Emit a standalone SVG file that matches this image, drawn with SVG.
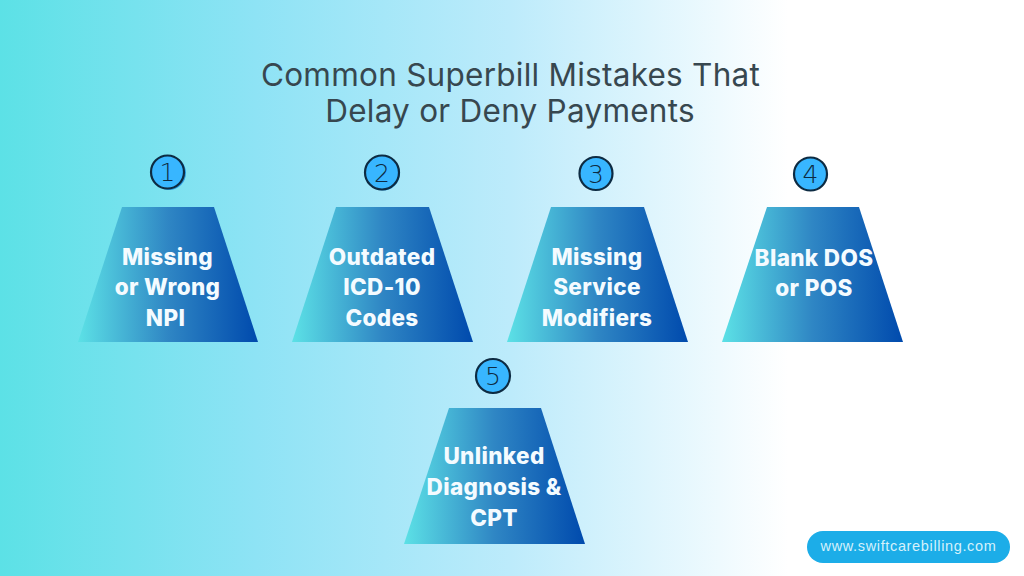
<svg xmlns="http://www.w3.org/2000/svg" width="1024" height="576" viewBox="0 0 1024 576">
<defs>
<linearGradient id="bg" x1="0" y1="0" x2="1" y2="0">
<stop offset="0" stop-color="#5ce1e6"/><stop offset="0.25" stop-color="#8ee3f5"/><stop offset="0.5" stop-color="#bdebfb"/><stop offset="0.77" stop-color="#ffffff"/><stop offset="1" stop-color="#ffffff"/>
</linearGradient>
<linearGradient id="tr" x1="0" y1="0" x2="1" y2="0">
<stop offset="0" stop-color="#5ce1e6"/><stop offset="0.5" stop-color="#2f86c4"/><stop offset="1" stop-color="#004aad"/>
</linearGradient>
<style>
.t{font-family:"Inter","Open Sans","Liberation Sans",sans-serif;font-size:31.5px;fill:#37474f;text-anchor:middle;letter-spacing:.25px}
.l{font-family:"Inter","Open Sans","Liberation Sans",sans-serif;font-weight:800;font-size:22.5px;fill:#f4fbff;text-anchor:middle;letter-spacing:.35px}
.c{fill:#38b6ff;stroke:#0d2b42;stroke-width:2.2}
.s{fill:#2a9be0}
.n{font-family:"DejaVu Sans",sans-serif;font-weight:200;font-size:25px;fill:#0d2b42;text-anchor:middle}
.p{fill:url(#tr)}
</style>
</defs>
<rect id="background" width="1024" height="576" fill="url(#bg)"/>
<g id="title">
<text class="t" x="510.500" y="86">Common Superbill Mistakes That</text>
<text class="t" x="510" y="122">Delay or Deny Payments</text>
</g>
<g id="connectors"></g>
<g id="node1">
<circle class="s" cx="169" cy="173" r="17"/><circle class="c" cx="167.500" cy="172" r="16.500"/><text class="n" x="167.500" y="181">1</text>
<polygon class="p" points="122,207 214,207 258,342 78,342"/>
<text class="l" x="167.500" y="265">Missing</text><text class="l" x="167.500" y="295">or Wrong</text><text class="l" x="165.500" y="326">NPI</text>
</g>
<g id="node2">
<circle class="s" cx="383" cy="173.500" r="17"/><circle class="c" cx="382" cy="172.500" r="17"/><text class="n" x="382" y="181.500">2</text>
<polygon class="p" points="336,207 429,207 473,342 292,342"/>
<text class="l" x="382" y="265">Outdated</text><text class="l" x="382" y="295">ICD-10</text><text class="l" x="382" y="326">Codes</text>
</g>
<g id="node3">
<circle class="c" cx="596" cy="173.500" r="16.500"/><text class="n" x="596" y="182.500">3</text>
<polygon class="p" points="551,207 644,207 688,342 507,342"/>
<text class="l" x="597" y="265">Missing</text><text class="l" x="597" y="295">Service</text><text class="l" x="597" y="326">Modifiers</text>
</g>
<g id="node4">
<circle class="c" cx="810.500" cy="174" r="16.500"/><text class="n" x="810.500" y="183">4</text>
<polygon class="p" points="767,207 859,207 903,342 722,342"/>
<text class="l" x="814" y="266">Blank DOS</text><text class="l" x="814" y="296">or POS</text>
</g>
<g id="node5">
<circle class="c" cx="493" cy="376" r="17"/><text class="n" x="493" y="385">5</text>
<polygon class="p" points="449,408 541,408 585,544 404,544"/>
<text class="l" x="494" y="464">Unlinked</text><text class="l" x="494" y="495">Diagnosis &amp;</text><text class="l" x="494" y="526">CPT</text>
</g>
<g id="link">
<rect x="807" y="531" width="203" height="32" rx="16" fill="#1cade8"/>
<text x="908.500" y="551" font-family="Liberation Sans, sans-serif" font-size="14.500" letter-spacing=".65" fill="#d5f1fb" text-anchor="middle">www.swiftcarebilling.com</text>
</g>
</svg>
